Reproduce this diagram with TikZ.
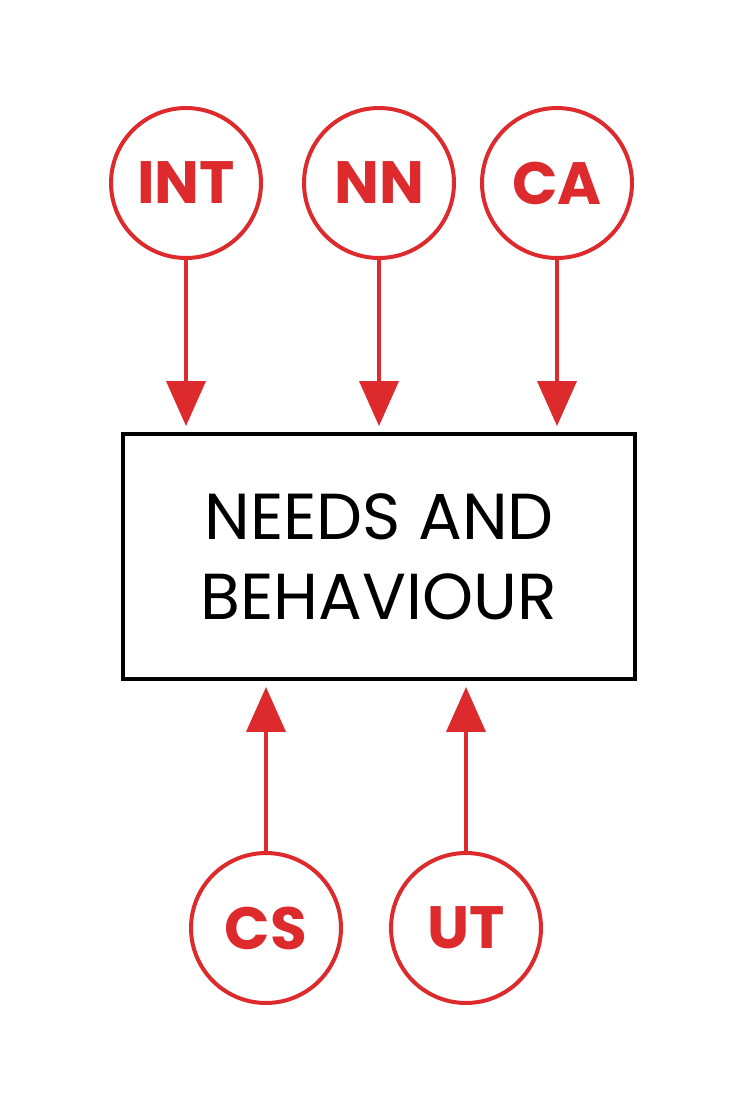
\documentclass[tikz,border=0pt]{standalone}
\usepackage{fontspec}
\setmainfont{Poppins}
\usetikzlibrary{arrows.meta, positioning}
\definecolor{nbred}{RGB}{221,43,45}

\begin{document}
\begin{tikzpicture}[
            x=0.02cm, y=-0.02cm,
            factor/.style={circle, draw=nbred, line width=0.08cm, minimum size=3.0cm, inner sep=0pt, text=nbred, font=\fontsize{34}{34}\selectfont\bfseries},
            core/.style={rectangle, draw=black, line width=0.08cm, minimum width=10.24cm, minimum height=4.9cm, align=center, font=\fontsize{37}{45.5}\selectfont},
            arr/.style={-{Triangle[width=0.78cm, length=0.9cm]}, line width=0.08cm, nbred, shorten >=0.12cm}
        ]
            \useasboundingbox (0,0) rectangle (754,1103);
            \node[core] (needs) at (379,556.5) {NEEDS AND\\BEHAVIOUR};
            \node[factor] (int) at (186,183) {INT};
            \node[factor] (nn) at (379,183) {NN};
            \node[factor] (ca) at (557,183) {CA};
            \node[factor] (cs) at (266,928) {CS};
            \node[factor] (ut) at (466,928) {UT};
            \draw[arr] (int) -- (int |- needs.north);
            \draw[arr] (nn) -- (nn |- needs.north);
            \draw[arr] (ca) -- (ca |- needs.north);
            \draw[arr] (cs) -- (cs |- needs.south);
            \draw[arr] (ut) -- (ut |- needs.south);
        \end{tikzpicture}
\end{document}
